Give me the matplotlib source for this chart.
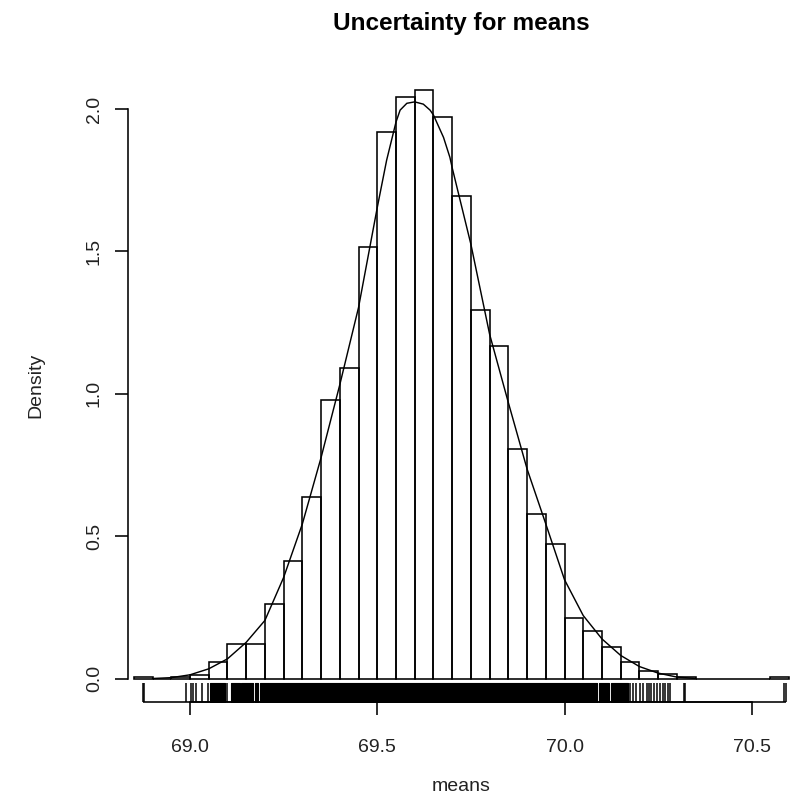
#! /usr/bin/env python3

import matplotlib
matplotlib.use('Agg')
import matplotlib.pyplot as plt

plt.rcParams['font.family'] = ['Liberation Sans', 'DejaVu Sans']

TITLE = 'Uncertainty for means'
X_LABEL = 'means'
Y_LABEL = 'Density'

# histogram bins (left edges, width 0.05) and their densities
BIN_WIDTH = 0.05
bin_lefts = [68.85, 68.90, 68.95, 69.00, 69.05, 69.10, 69.15, 69.20, 69.25,
             69.30, 69.35, 69.40, 69.45, 69.50, 69.55, 69.60, 69.65, 69.70,
             69.75, 69.80, 69.85, 69.90, 69.95, 70.00, 70.05, 70.10, 70.15,
             70.20, 70.25, 70.30, 70.35, 70.40, 70.45, 70.50, 70.55]
bin_density = [0.004, 0.0, 0.004, 0.013, 0.057, 0.12, 0.12, 0.26, 0.414,
               0.636, 0.978, 1.090, 1.516, 1.919, 2.042, 2.067, 1.973, 1.695,
               1.295, 1.168, 0.807, 0.579, 0.474, 0.213, 0.166, 0.11, 0.057,
               0.026, 0.016, 0.004, 0.0, 0.0, 0.0, 0.0, 0.004]

# density curve
curve_x = [68.90, 68.95, 69.00, 69.05, 69.10, 69.15, 69.20, 69.25, 69.30,
           69.35, 69.40, 69.45, 69.50, 69.525, 69.55, 69.561, 69.579, 69.60,
           69.623, 69.641, 69.65, 69.677, 69.694, 69.70, 69.75, 69.80, 69.85,
           69.90, 69.95, 70.00, 70.05, 70.10, 70.15, 70.20, 70.25, 70.30, 70.35]
curve_y = [0.0, 0.003, 0.013, 0.034, 0.069, 0.127, 0.204, 0.355, 0.543,
           0.776, 1.032, 1.303, 1.654, 1.82, 1.954, 1.996, 2.02, 2.025,
           2.017, 1.996, 1.979, 1.90, 1.83, 1.794, 1.525, 1.209, 0.969,
           0.736, 0.543, 0.347, 0.221, 0.139, 0.081, 0.042, 0.019, 0.005, 0.0]

# rug: single visible ticks and solid (dense) stretches
rug_ticks = [68.874, 68.878, 68.989, 69.002, 69.009, 69.015, 69.031, 69.047,
             69.099, 70.175, 70.182, 70.191, 70.202, 70.209, 70.219, 70.225,
             70.231, 70.239, 70.246, 70.254, 70.263, 70.269, 70.277, 70.281,
             70.319, 70.323, 70.586, 70.591]
rug_spans = [(69.053, 69.093), (69.109, 69.134), (69.136, 69.168),
             (69.174, 69.182), (69.188, 70.086), (70.092, 70.119),
             (70.124, 70.170)]

X_TICKS = [69.0, 69.5, 70.0, 70.5]
X_TICK_LABELS = ['69.0', '69.5', '70.0', '70.5']
Y_TICKS = [0.0, 0.5, 1.0, 1.5, 2.0]
Y_TICK_LABELS = ['0.0', '0.5', '1.0', '1.5', '2.0']

W, H = 791, 794
X_LIM = (68.8344, 70.6048)
Y_LIM = (-0.0825, 2.145)
RUG_LEN = 0.065
LW = 1.15

fig = plt.figure(figsize=(W / 100, H / 100), dpi=100)
ax = fig.add_axes([128 / W, (H - 702) / H, (791 - 128) / W, (702 - 67.7) / H])

ax.bar(bin_lefts, bin_density, width=BIN_WIDTH, align='edge',
       fill=False, edgecolor='black', linewidth=LW)
ax.plot(curve_x, curve_y, color='black', linewidth=LW * 0.9)

rug_base = Y_LIM[0]
ax.vlines(rug_ticks, rug_base, rug_base + RUG_LEN, color='black', linewidth=1.1)
for a, b in rug_spans:
    ax.fill_between([a, b], rug_base, rug_base + RUG_LEN, color='black',
                    linewidth=0.8, edgecolor='black')
all_rug = rug_ticks + [s for span in rug_spans for s in span]
ax.hlines(rug_base, min(all_rug), max(all_rug), color='black',
          linewidth=LW, clip_on=False)

ax.set_xlim(*X_LIM)
ax.set_ylim(*Y_LIM)

for side in ['top', 'right']:
    ax.spines[side].set_visible(False)
ax.spines['left'].set_bounds(Y_TICKS[0], Y_TICKS[-1])
ax.spines['bottom'].set_bounds(X_TICKS[0], X_TICKS[-1])
ax.spines['left'].set_linewidth(LW)
ax.spines['bottom'].set_linewidth(LW)

ax.set_xticks(X_TICKS)
ax.set_xticklabels(X_TICK_LABELS)
ax.set_yticks(Y_TICKS)
ax.set_yticklabels(Y_TICK_LABELS, rotation=90, va='center')
ax.tick_params(axis='both', direction='out', length=9.5, width=LW,
               labelsize=14, color='black', labelcolor='#222222')
ax.tick_params(axis='x', pad=17)
ax.tick_params(axis='y', pad=8.5)

fig.text(461 / W, 1 - 30 / H, TITLE, ha='center', va='baseline',
         fontsize=17.5, fontweight='bold')
fig.text(461 / W, 1 - 791 / H, X_LABEL, ha='center', va='baseline',
         fontsize=14, color='#222222')
fig.text(36 / W, 1 - 385 / H, Y_LABEL, ha='center', va='center',
         rotation=90, fontsize=14, color='#222222')

fig.savefig('out.png', dpi=100)
